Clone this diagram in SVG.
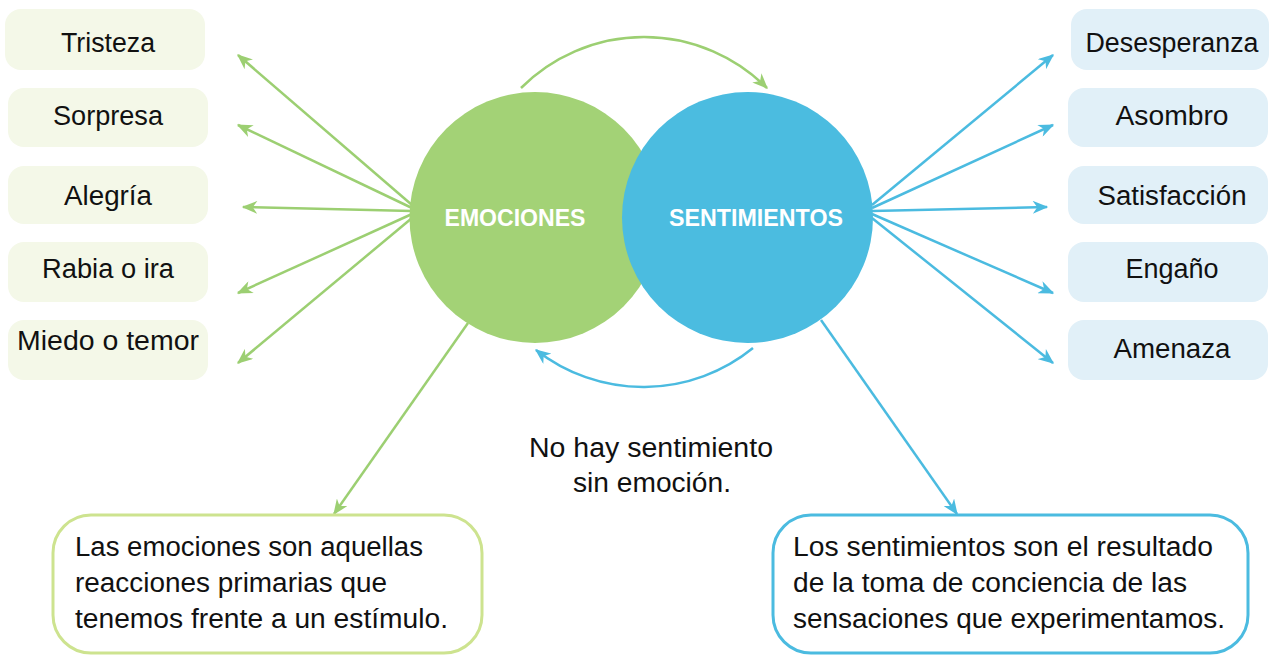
<svg xmlns="http://www.w3.org/2000/svg" width="1269" height="655" viewBox="0 0 1269 655">
<style>
text{font-family:"Liberation Sans",Arial,sans-serif;fill:#111;}
.lbl{font-size:27px;text-anchor:middle;}
.big{font-size:23px;font-weight:bold;fill:#fff;text-anchor:middle;}
.gb{fill:#f4f8e8;}
.bb{fill:#e1f0f8;}
.g{stroke:#9ccf72;stroke-width:2.5;fill:none;}
.b{stroke:#4bbbe0;stroke-width:2.5;fill:none;}
.body{font-size:27px;}
</style>
<defs>
<marker id="ag" viewBox="0 0 12 10" refX="11" refY="5" markerWidth="16" markerHeight="13" markerUnits="userSpaceOnUse" orient="auto">
<path d="M0,0 L12,5 L0,10 L3.5,5 z" fill="#9ccf72"/>
</marker>
<marker id="ab" viewBox="0 0 12 10" refX="11" refY="5" markerWidth="16" markerHeight="13" markerUnits="userSpaceOnUse" orient="auto">
<path d="M0,0 L12,5 L0,10 L3.5,5 z" fill="#4bbbe0"/>
</marker>
</defs>
<rect width="1269" height="655" fill="#fff"/>
<g id="connectors">
<line class="g" x1="412" y1="205" x2="238" y2="55" marker-end="url(#ag)"/>
<line class="g" x1="412" y1="208" x2="238" y2="125" marker-end="url(#ag)"/>
<line class="g" x1="412" y1="211" x2="243" y2="207" marker-end="url(#ag)"/>
<line class="g" x1="412" y1="214" x2="238" y2="293" marker-end="url(#ag)"/>
<line class="g" x1="412" y1="218" x2="238" y2="363" marker-end="url(#ag)"/>
<line class="b" x1="872" y1="205" x2="1053" y2="55" marker-end="url(#ab)"/>
<line class="b" x1="872" y1="208" x2="1053" y2="125" marker-end="url(#ab)"/>
<line class="b" x1="872" y1="211" x2="1047" y2="207" marker-end="url(#ab)"/>
<line class="b" x1="872" y1="214" x2="1053" y2="293" marker-end="url(#ab)"/>
<line class="b" x1="872" y1="218" x2="1053" y2="363" marker-end="url(#ab)"/>
<line class="g" x1="468" y1="323" x2="334" y2="514" marker-end="url(#ag)"/>
<line class="b" x1="821" y1="320" x2="957" y2="514" marker-end="url(#ab)"/>
<path class="g" d="M521,88 A174,174 0 0 1 767,88" marker-end="url(#ag)"/>
<path class="b" d="M753,348 A174,174 0 0 1 536,350" marker-end="url(#ab)"/>
</g>
<g id="emociones">
<circle cx="535" cy="217.5" r="125.5" fill="#a3d276"/>
<text class="big" x="515" y="226" textLength="141" lengthAdjust="spacingAndGlyphs">EMOCIONES</text>
</g>
<g id="sentimientos">
<circle cx="747.5" cy="217.5" r="125.5" fill="#4bbce0"/>
<text class="big" x="756" y="226" textLength="174" lengthAdjust="spacingAndGlyphs">SENTIMIENTOS</text>
</g>
<g id="tristeza"><rect class="gb" x="5" y="9" width="200" height="61" rx="16"/><text class="lbl" x="108" y="52" textLength="94" lengthAdjust="spacingAndGlyphs">Tristeza</text></g>
<g id="sorpresa"><rect class="gb" x="8" y="88" width="200" height="59" rx="16"/><text class="lbl" x="108" y="125" textLength="110" lengthAdjust="spacingAndGlyphs">Sorpresa</text></g>
<g id="alegria"><rect class="gb" x="8" y="166" width="200" height="58" rx="16"/><text class="lbl" x="108" y="205" textLength="88" lengthAdjust="spacingAndGlyphs">Alegría</text></g>
<g id="rabia"><rect class="gb" x="8" y="242" width="200" height="60" rx="16"/><text class="lbl" x="108" y="278" textLength="132" lengthAdjust="spacingAndGlyphs">Rabia o ira</text></g>
<g id="miedo"><rect class="gb" x="8" y="320" width="200" height="60" rx="16"/><text class="lbl" x="108" y="350" textLength="182" lengthAdjust="spacingAndGlyphs">Miedo o temor</text></g>
<g id="desesperanza"><rect class="bb" x="1071" y="9" width="198" height="61" rx="16"/><text class="lbl" x="1172" y="52" textLength="173" lengthAdjust="spacingAndGlyphs">Desesperanza</text></g>
<g id="asombro"><rect class="bb" x="1068" y="88" width="200" height="59" rx="16"/><text class="lbl" x="1172" y="125" textLength="113" lengthAdjust="spacingAndGlyphs">Asombro</text></g>
<g id="satisfaccion"><rect class="bb" x="1068" y="166" width="200" height="58" rx="16"/><text class="lbl" x="1172" y="205" textLength="149" lengthAdjust="spacingAndGlyphs">Satisfacción</text></g>
<g id="engano"><rect class="bb" x="1068" y="242" width="200" height="60" rx="16"/><text class="lbl" x="1172" y="278" textLength="93" lengthAdjust="spacingAndGlyphs">Engaño</text></g>
<g id="amenaza"><rect class="bb" x="1068" y="320" width="200" height="60" rx="16"/><text class="lbl" x="1172" y="358" textLength="117" lengthAdjust="spacingAndGlyphs">Amenaza</text></g>
<g id="nota">
<text class="lbl" x="651" y="457" textLength="244" lengthAdjust="spacingAndGlyphs">No hay sentimiento</text>
<text class="lbl" x="652" y="492" textLength="158" lengthAdjust="spacingAndGlyphs">sin emoción.</text>
</g>
<g id="def-emociones">
<rect x="53" y="515" width="429" height="138" rx="38" fill="#fff" stroke="#cde38f" stroke-width="3"/>
<text class="body" x="75" y="556" textLength="348" lengthAdjust="spacingAndGlyphs">Las emociones son aquellas</text>
<text class="body" x="75" y="592" textLength="312" lengthAdjust="spacingAndGlyphs">reacciones primarias que</text>
<text class="body" x="75" y="628" textLength="373" lengthAdjust="spacingAndGlyphs">tenemos frente a un estímulo.</text>
</g>
<g id="def-sentimientos">
<rect x="773" y="515" width="475" height="138" rx="38" fill="#fff" stroke="#4bbbe0" stroke-width="3"/>
<text class="body" x="793" y="556" textLength="420" lengthAdjust="spacingAndGlyphs">Los sentimientos son el resultado</text>
<text class="body" x="793" y="592" textLength="394" lengthAdjust="spacingAndGlyphs">de la toma de conciencia de las</text>
<text class="body" x="793" y="628" textLength="432" lengthAdjust="spacingAndGlyphs">sensaciones que experimentamos.</text>
</g>
</svg>
